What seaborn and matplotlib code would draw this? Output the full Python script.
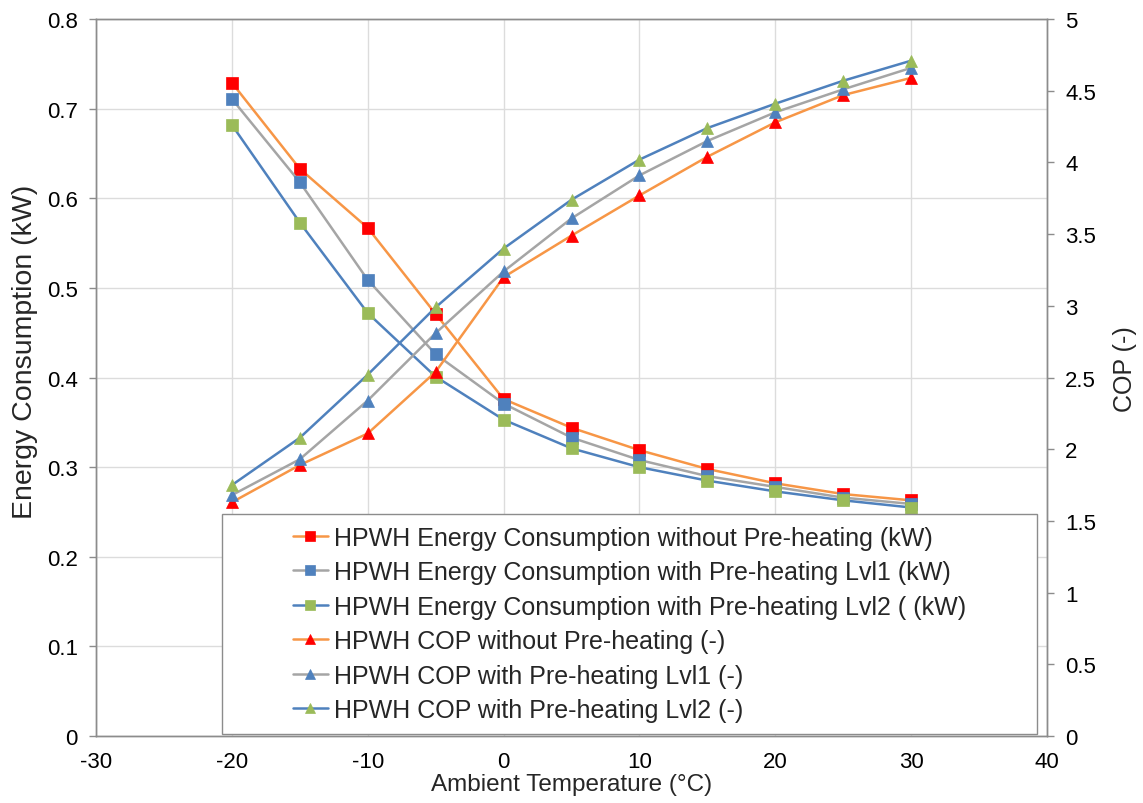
import matplotlib
matplotlib.use("Agg")
import matplotlib.pyplot as plt
import seaborn as sns
from matplotlib.patches import Rectangle
from matplotlib.ticker import FuncFormatter, MultipleLocator

temps = [-20, -15, -10, -5, 0, 5, 10, 15, 20, 25, 30]
e_none = [0.729, 0.633, 0.567, 0.471, 0.376, 0.344, 0.319, 0.298, 0.282, 0.270, 0.263]
e_lvl1 = [0.711, 0.618, 0.509, 0.426, 0.371, 0.333, 0.308, 0.290, 0.278, 0.266, 0.259]
e_lvl2 = [0.682, 0.573, 0.472, 0.401, 0.353, 0.321, 0.300, 0.285, 0.273, 0.263, 0.255]
cop_none = [1.63, 1.89, 2.11, 2.54, 3.20, 3.49, 3.77, 4.04, 4.28, 4.47, 4.59]
cop_lvl1 = [1.68, 1.93, 2.34, 2.81, 3.24, 3.61, 3.91, 4.15, 4.35, 4.51, 4.66]
cop_lvl2 = [1.75, 2.08, 2.52, 2.99, 3.40, 3.74, 4.02, 4.24, 4.41, 4.57, 4.71]

labels_e = ["HPWH Energy Consumption without Pre-heating (kW)",
            "HPWH Energy Consumption with Pre-heating Lvl1 (kW)",
            "HPWH Energy Consumption with Pre-heating Lvl2 ( (kW)"]
labels_c = ["HPWH COP without Pre-heating (-)",
            "HPWH COP with Pre-heating Lvl1 (-)",
            "HPWH COP with Pre-heating Lvl2 (-)"]

line_cols = ["#F79646", "#A5A5A5", "#4F81BD"]
mark_cols = ["#FF0000", "#4F81BD", "#9BBB59"]

sns.set_style("white")
plt.rcParams['font.family'] = ['Liberation Sans', 'DejaVu Sans']

fig, ax = plt.subplots(figsize=(11.43, 8.04), dpi=100)
fig.subplots_adjust(left=0.084, right=0.916, top=0.975, bottom=0.0833)
ax2 = ax.twinx()

for vals, lab, lc, mc in zip([e_none, e_lvl1, e_lvl2], labels_e, line_cols, mark_cols):
    sns.lineplot(x=temps, y=vals, ax=ax, color=lc, linewidth=1.8, marker='s',
                 markersize=9, markerfacecolor=mc, markeredgecolor=mc,
                 markeredgewidth=0.5, label=lab)
for vals, lab, lc, mc in zip([cop_none, cop_lvl1, cop_lvl2], labels_c, line_cols, mark_cols):
    sns.lineplot(x=temps, y=vals, ax=ax2, color=lc, linewidth=1.8, marker='^',
                 markersize=9, markerfacecolor=mc, markeredgecolor=mc,
                 markeredgewidth=0.5, label=lab)

h1, l1 = ax.get_legend_handles_labels()
h2, l2 = ax2.get_legend_handles_labels()
for a in (ax, ax2):
    if a.get_legend() is not None:
        a.get_legend().remove()

ax.set_xlim(-30, 40)
ax.set_ylim(0, 0.8)
ax2.set_ylim(0, 5)
ax.xaxis.set_major_locator(MultipleLocator(10))
ax.yaxis.set_major_locator(MultipleLocator(0.1))
ax2.yaxis.set_major_locator(MultipleLocator(0.5))
fmt = FuncFormatter(lambda v, p: f"{v:g}")
ax.yaxis.set_major_formatter(fmt)
ax2.yaxis.set_major_formatter(fmt)
ax.xaxis.set_major_formatter(fmt)

ax.grid(True, color="#DCDCDC", linewidth=1)
ax.set_axisbelow(True)
for a in (ax, ax2):
    for s in a.spines.values():
        s.set_color("#8C8C8C")
        s.set_linewidth(1)
ax.tick_params(axis='both', labelsize=16, colors="#8C8C8C", labelcolor="black",
               length=5, width=1, direction='out')
ax.tick_params(axis='y', pad=8)
ax.tick_params(axis='x', pad=6)
ax2.tick_params(axis='y', labelsize=16, colors="#8C8C8C", labelcolor="black",
                length=5, width=1, direction='out', pad=8)

ax.set_xlabel("Ambient Temperature (°C)", fontsize=17.5)
ax.xaxis.set_label_coords(0.5, -0.052)
ax.set_ylabel("Energy Consumption (kW)", fontsize=20.5)
ax.yaxis.set_label_coords(-0.061, 0.537)
ax2.set_ylabel("COP (-)", fontsize=18)
ax2.yaxis.set_label_coords(1.069, 0.513)

x0, y0, x1, y1 = 0.1325, 0.003, 0.989, 0.31
rect = Rectangle((x0, y0), x1 - x0, y1 - y0, transform=ax2.transAxes,
                 facecolor="white", edgecolor="#8C8C8C", linewidth=1, zorder=4)
ax2.add_patch(rect)
leg = ax2.legend(h1 + h2, l1 + l2, loc='center',
                 bbox_to_anchor=(x0, y0, x1 - x0, y1 - y0),
                 bbox_transform=ax2.transAxes, frameon=False, fontsize=18,
                 handlelength=1.4, handletextpad=0.25, labelspacing=0.42,
                 markerscale=0.75, borderpad=0.2)
leg.set_zorder(6)

fig.savefig("out.png", dpi=100)
